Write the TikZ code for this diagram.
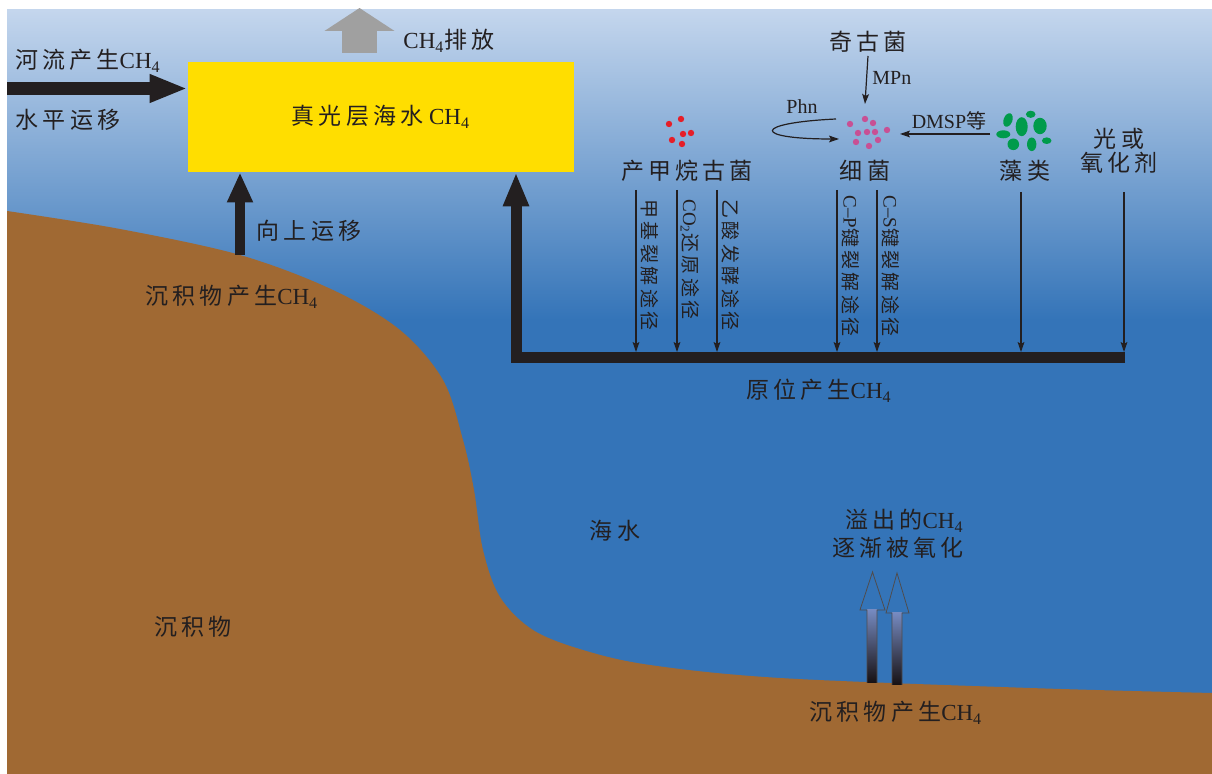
\documentclass[tikz,border=0pt]{standalone}
\usepackage{fontspec}
\setmainfont{Liberation Serif}
\newfontfamily\cjkfont[LetterSpace=18]{Noto Sans CJK SC}
\newcommand{\zh}[1]{{\cjkfont #1}}
\newcommand{\chf}{CH\textsubscript{4}}
\usetikzlibrary{arrows.meta}
\definecolor{ink}{HTML}{231F20}
\definecolor{skytop}{RGB}{196,214,237}
\definecolor{sea}{RGB}{52,116,184}
\definecolor{mud}{RGB}{160,105,51}
\definecolor{boxyellow}{RGB}{255,222,0}
\definecolor{ventgray}{RGB}{160,160,160}
\definecolor{archred}{RGB}{230,30,40}
\definecolor{bactpink}{RGB}{200,80,148}
\definecolor{algagreen}{RGB}{0,155,75}
\definecolor{bubbletop}{RGB}{118,138,192}
\definecolor{bubblebot}{RGB}{22,16,18}
\tikzset{
  lbl/.style={text=ink, inner sep=0pt, font=\fontsize{11.5pt}{13.5pt}\selectfont},
  smalllbl/.style={text=ink, inner sep=0pt, font=\fontsize{10pt}{12pt}\selectfont},
  vlab/.style={text=ink, inner sep=0pt, rotate=-90, anchor=west, font=\fontsize{9.5pt}{11pt}\selectfont},
  thinarrow/.style={draw=ink, line width=0.6pt, -{Stealth[length=5pt,width=3.4pt,inset=1pt]}},
  blockarrow/.style={draw=ink, line width=#1},
  dot/.style={circle, inner sep=0pt, minimum size=3.2pt},
  hollowhead/.style={draw=ink!80, line width=0.4pt, line join=miter}
}
\begin{document}
\begin{tikzpicture}[x=0.5pt,y=-0.5pt]
\useasboundingbox (0,0) rectangle (1212,774);
\fill[white] (0,0) rectangle (1212,774);

% water column: light surface grading into deep blue
\shade[top color=skytop, bottom color=sea] (7,10) rectangle (1212,320);
\fill[sea] (7,319) rectangle (1212,774);

% sediment body: shelf, slope and basin floor
\fill[mud] plot[smooth, tension=0.55] coordinates {
  (7,211) (120,229) (240,255) (333,290) (400,330) (443,380) (463,440)
  (474,490) (483,550) (500,597) (533,630) (583,650) (650,665) (780,678)
  (1030,688) (1212,693)}
  -- (1212,774) -- (7,774) -- cycle;

% euphotic-zone methane reservoir
\node[fill=boxyellow, minimum width=193pt, minimum height=55pt, inner sep=0pt,
      text=ink, font=\fontsize{11.5pt}{13.5pt}\selectfont] (box) at (381,117)
      {\zh{真光层海水} \chf};

% riverine input, lateral transport
\coordinate (rivstart) at (7,88.5);
\draw[blockarrow=6.5pt, -{Triangle[length=19pt,width=13pt]}] (rivstart) -- (rivstart -| box.west);
\node[lbl] (riv) at (88,61) {\zh{河流产生}\chf};
\node[lbl] (lateral) at (68,120) {\zh{水平运移}};

% emission to the atmosphere
\coordinate (ventbase) at (359.5,53);
\coordinate (venttip) at (359.5,8);
\draw[draw=ventgray, line width=17.5pt, -{Triangle[length=11.5pt,width=34.5pt]}] (ventbase) -- (venttip);
\node[lbl] (emis) at (449,41) {\chf\zh{排放}};

% upward migration from shelf sediment
\coordinate (shelfsrc) at (240,255);
\draw[blockarrow=5pt, -{Triangle[length=15pt,width=12pt]}] (shelfsrc) -- (shelfsrc |- box.south);
\node[lbl] (upmig) at (309,231) {\zh{向上运移}};
\node[lbl] (shelfch4) at (232,297) {\zh{沉积物产生}\chf};

% in-situ production collector bar and riser
\coordinate (barend) at (1125,357.5);
\coordinate (barcorner) at (516,357.5);
\draw[blockarrow=5.5pt, line join=miter, -{Triangle[length=17pt,width=12pt]}]
  (barend) -- (barcorner) -- (barcorner |- box.south);
\node[lbl] (insitu) at (819,391) {\zh{原位产生}\chf};

% organisms
\node[lbl] (methanogen) at (687,171) {\zh{产甲烷古菌}};
\node[lbl] (bacteria) at (865,171) {\zh{细菌}};
\node[lbl] (thaum) at (868,42) {\zh{奇古菌}};
\node[lbl] (algae) at (1025,171) {\zh{藻类}};
\node[lbl, align=center] (light) at (1119,151) {\zh{光或}\\[-1.5pt]\zh{氧化剂}};

% methanogen cells
\foreach \p in {(681,119),(669,124),(683,134),(691,133),(672,140),(682,144)}
  \node[dot, fill=archred] at \p {};
% bacterial cells
\foreach \p in {(865,119),(873,123),(850,124),(858,133),(867,132),(875,132),(887,130),(856,142),(869,146),(878,140)}
  \node[dot, fill=bactpink] at \p {};
% algal cells
\begin{scope}[fill=algagreen]
  \fill (1021.7,126.7) ellipse [x radius=6, y radius=9.5];
  \fill[rotate around={-20:(1008,120)}] (1008,120) ellipse [x radius=4.4, y radius=7];
  \fill (1030.7,114.3) ellipse [x radius=4.8, y radius=3.6];
  \fill (1040,126) ellipse [x radius=6.7, y radius=8.2];
  \fill (1003.3,134.3) ellipse [x radius=7, y radius=4];
  \fill (1013.3,144.3) ellipse [x radius=5.8, y radius=5.8];
  \fill (1031.7,144.3) ellipse [x radius=4.7, y radius=6.8];
  \fill (1046.7,140.7) ellipse [x radius=4.8, y radius=3.3];
\end{scope}

% substrates passed to bacteria
\coordinate (mpnend) at (865,104);
\draw[thinarrow] (thaum.south |- 0,56) -- (mpnend);
\node[smalllbl, anchor=west] (mpn) at (872,78) {MPn};
\coordinate (phnstart) at (836,119);
\coordinate (phnend) at (839,139);
\draw[thinarrow] (phnstart) .. controls (752,123) and (752,139) .. (phnend);
\node[smalllbl] (phn) at (802,107) {Phn};
\coordinate (dmspstart) at (990,134);
\coordinate (dmspend) at (900,134);
\draw[thinarrow] (dmspstart) -- (dmspend);
\node[smalllbl] (dmsp) at (949,121) {DMSP\zh{等}};

% pathways feeding the in-situ pool
\foreach \x/\t in {636/190, 677/190, 717/190, 837/190, 877/190, 1021/192, 1124/192} {
  \coordinate (top\x) at (\x,\t);
  \coordinate (bot\x) at (\x,352);
  \draw[thinarrow] (top\x) -- (bot\x);
}
\node[vlab] (methyl) at (650,199) {\zh{甲基裂解途径}};
\node[vlab] (co2red) at (690,199) {CO\textsubscript{2}\zh{还原途径}};
\node[vlab] (acetate) at (731,199) {\zh{乙酸发酵途径}};
\node[vlab] (cpbond) at (851,195) {C--P\zh{键裂解途径}};
\node[vlab] (csbond) at (891,195) {C--S\zh{键裂解途径}};

% deep water labels
\node[lbl] (seawater) at (615,531) {\zh{海水}};
\node[lbl] (sediment) at (193,627) {\zh{沉积物}};
\node[lbl, anchor=east] (seep1) at (964,521) {\zh{溢出的}\chf};
\node[lbl, anchor=east] (seep2) at (964,548) {\zh{逐渐被氧化}};
\node[lbl] (basinch4) at (896,713) {\zh{沉积物产生}\chf};

% seep bubbles rising from basin floor
\shade[top color=bubbletop, bottom color=bubblebot] (867,610) rectangle (877,683);
\draw[hollowhead] (867,683) -- (867,610) -- (860,610) -- (872.5,572) -- (885,610) -- (877,610) -- (877,683);
\shade[top color=bubbletop, bottom color=bubblebot] (892,613) rectangle (902,685);
\draw[hollowhead] (892,685) -- (892,613) -- (886,613) -- (897,573) -- (909,613) -- (902,613) -- (902,685);
\end{tikzpicture}
\end{document}
